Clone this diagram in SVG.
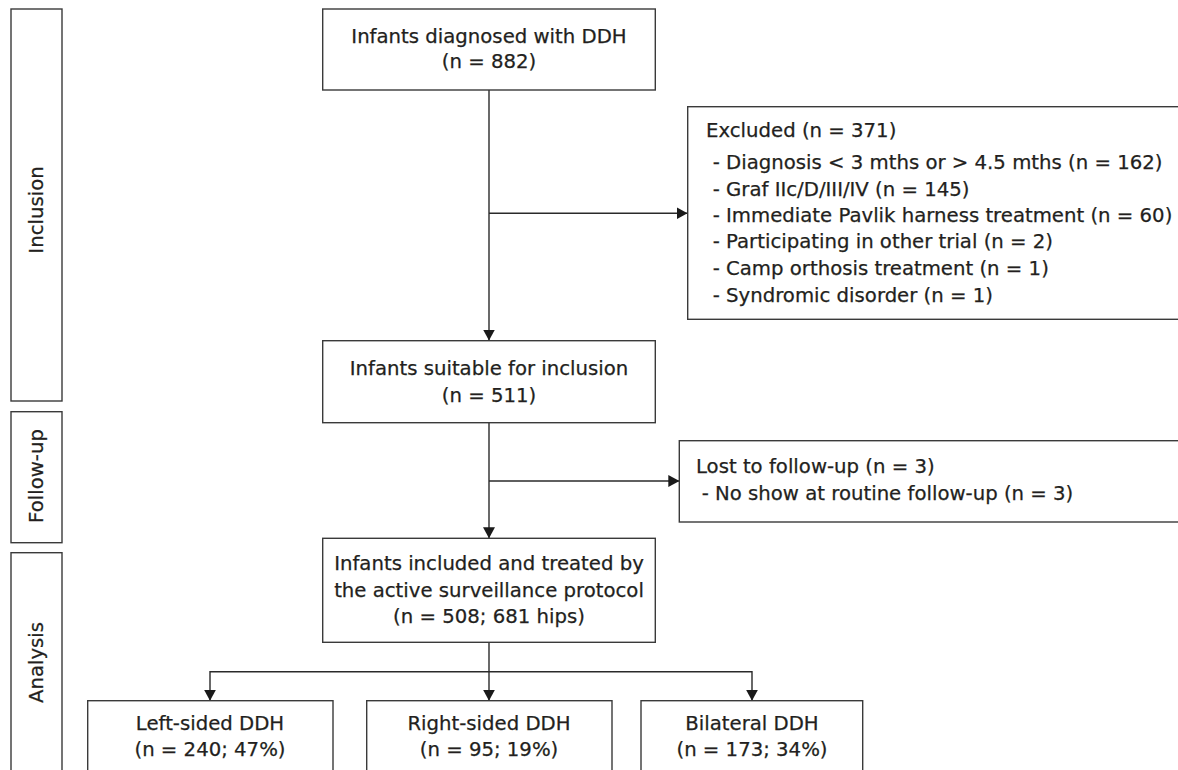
<svg xmlns="http://www.w3.org/2000/svg" width="1178" height="770" viewBox="0 0 1178 770">
<defs>
<style>
.box{fill:#fff;stroke:#3a3a3a;stroke-width:1.4}
.ln{fill:none;stroke:#2a2a2a;stroke-width:1.4}
text{font-family:"DejaVu Sans","Liberation Sans",sans-serif;font-size:19.7px;fill:#231f20;stroke:#231f20;stroke-width:0.25}
.c{text-anchor:middle}
</style>
<marker id="ah" viewBox="0 0 11 12" refX="11" refY="6" markerWidth="11" markerHeight="12" markerUnits="userSpaceOnUse" orient="auto">
<path d="M0,0 L11,6 L0,12 z" fill="#1a1a1a"/>
</marker>
</defs>
<rect width="1178" height="770" fill="#fff"/>

<g id="stage-inclusion">
<rect class="box" x="11" y="9" width="51" height="392"/>
<text class="c" transform="translate(43,210) rotate(-90)">Inclusion</text>
</g>
<g id="stage-followup">
<rect class="box" x="11" y="411.7" width="51" height="131"/>
<text class="c" transform="translate(43,476) rotate(-90)">Follow-up</text>
</g>
<g id="stage-analysis">
<rect class="box" x="11" y="552.7" width="51" height="240"/>
<text class="c" transform="translate(43,662.5) rotate(-90)">Analysis</text>
</g>

<g id="connectors">
<line class="ln" x1="489" y1="90" x2="489" y2="340.5" marker-end="url(#ah)"/>
<line class="ln" x1="489" y1="213.3" x2="687.5" y2="213.3" marker-end="url(#ah)"/>
<line class="ln" x1="489" y1="422.7" x2="489" y2="538.3" marker-end="url(#ah)"/>
<line class="ln" x1="489" y1="481" x2="679.3" y2="481" marker-end="url(#ah)"/>
<line class="ln" x1="489" y1="642.3" x2="489" y2="700.7" marker-end="url(#ah)"/>
<path class="ln" d="M489,671.7 H210 V700.7" marker-end="url(#ah)"/>
<path class="ln" d="M489,671.7 H752 V700.7" marker-end="url(#ah)"/>
</g>

<g id="diagnosed">
<rect class="box" x="322.7" y="9" width="332.6" height="81"/>
<text class="c" x="489" y="42.7">Infants diagnosed with DDH</text>
<text class="c" x="489" y="68">(n = 882)</text>
</g>

<g id="excluded">
<rect class="box" x="687.7" y="106.7" width="510" height="212.6"/>
<text x="706" y="136.7">Excluded (n = 371)</text>
<text x="712.7" y="169.3">- Diagnosis &lt; 3 mths or &gt; 4.5 mths (n = 162)</text>
<text x="712.7" y="195.7">- Graf IIc/D/III/IV (n = 145)</text>
<text x="712.7" y="221.7">- Immediate Pavlik harness treatment (n = 60)</text>
<text x="712.7" y="248.3">- Participating in other trial (n = 2)</text>
<text x="712.7" y="275">- Camp orthosis treatment (n = 1)</text>
<text x="712.7" y="301.7">- Syndromic disorder (n = 1)</text>
</g>

<g id="suitable">
<rect class="box" x="322.7" y="340.7" width="332.6" height="82"/>
<text class="c" x="489" y="375">Infants suitable for inclusion</text>
<text class="c" x="489" y="401.7">(n = 511)</text>
</g>

<g id="lost">
<rect class="box" x="679.3" y="440.7" width="520" height="81.3"/>
<text x="696" y="473.3">Lost to follow-up (n = 3)</text>
<text x="701.7" y="500">- No show at routine follow-up (n = 3)</text>
</g>

<g id="included">
<rect class="box" x="322.7" y="538.3" width="332.6" height="104"/>
<text class="c" x="489" y="570">Infants included and treated by</text>
<text class="c" x="489" y="596.7">the active surveillance protocol</text>
<text class="c" x="489" y="622.7">(n = 508; 681 hips)</text>
</g>

<g id="left-sided">
<rect class="box" x="87.7" y="700.7" width="245.3" height="90"/>
<text class="c" x="210" y="730">Left-sided DDH</text>
<text class="c" x="210" y="755.7">(n = 240; 47%)</text>
</g>
<g id="right-sided">
<rect class="box" x="366.7" y="700.7" width="245.3" height="90"/>
<text class="c" x="489" y="730">Right-sided DDH</text>
<text class="c" x="489" y="755.7">(n = 95; 19%)</text>
</g>
<g id="bilateral">
<rect class="box" x="641" y="700.7" width="221.7" height="90"/>
<text class="c" x="752" y="730">Bilateral DDH</text>
<text class="c" x="752" y="755.7">(n = 173; 34%)</text>
</g>
</svg>
